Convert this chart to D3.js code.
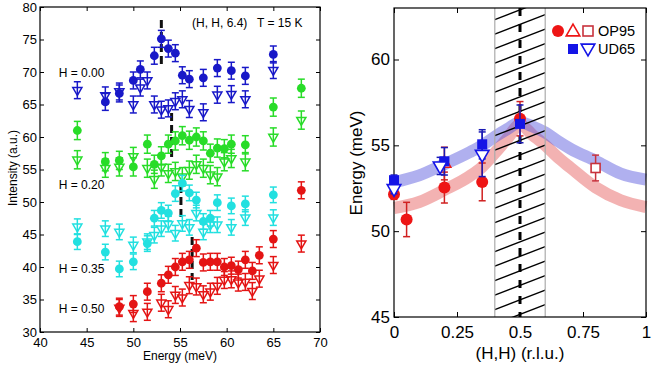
<!DOCTYPE html>
<html><head><meta charset="utf-8">
<script src="https://cdn.jsdelivr.net/npm/d3@7"></script>
<style>body{margin:0;background:#fff} svg{display:block;font-family:"Liberation Sans",Arial,sans-serif}</style>
</head><body>
<svg id="c" width="656" height="369"></svg>
<script>
// ---------------- LEFT PANEL DATA ----------------
const energyTicks = [40,45,50,55,60,65,70];
const intensityTicks = [30,35,40,45,50,55,60,65,70,75,80];
const hLabels = ["H = 0.00","H = 0.20","H = 0.35","H = 0.50"];
const headerText = ["(H, H, 6.4)","T = 15 K"];

const blueCircE = [47,48.5,50,50.75,52.25,53,53.75,54.5,55.25,56,57.5,59,60.5,62,65];
const blueCircI = [65.4,66.7,68.7,70.4,72.5,75.1,73.6,72.9,69.5,68.9,69.1,70.6,70.2,69.4,72.7];
const blueTriE  = [44,47,48.5,50,50.75,51.5,52.25,53,53.75,54.5,55.25,56,57.5,59,60.5,62,65];
const blueTriI  = [67.2,66.4,67.0,65.0,67.6,68.7,65.0,64.2,64.4,65.5,65.8,64.3,63.8,66.5,66.6,65.8,70.3];

const greenCircE = [44,47,48.5,50,51.5,52.25,53,53.75,54.5,55.25,56,56.75,57.5,58.25,59,59.75,60.5,62,65,68];
const greenCircI = [61.0,56.2,56.4,55.4,58.9,55.8,57.1,58.9,59.4,60.2,59.5,60.0,59.4,57.5,58.3,58.2,58.9,58.8,64.6,67.5];
const greenTriE  = [44,47,48.5,50,51.5,52.25,53,53.75,54.5,55.25,56,56.75,57.5,58.25,59,59.75,60.5,62,65,68];
const greenTriI  = [56.5,55.2,55.4,57.0,55.2,53.5,55.4,54.4,54.7,53.9,54.9,55.8,55.2,54.2,53.9,56.2,56.7,56.2,60.0,62.6];

const cyanCircE = [44,47,48.5,50,51.5,52.25,53,53.75,54.5,55.25,56,56.75,57.5,58.25,59,60.5,62,65];
const cyanCircI = [43.9,42.3,39.7,40.8,43.6,47.5,48.7,48.3,51.3,52.9,51.4,50.3,47.0,47.5,49.9,49.4,49.7,51.1];
const cyanTriE  = [44,47,48.5,50,51.5,52.25,53,53.75,54.5,55.25,56,56.75,57.5,58.25,59,60.5,62,65];
const cyanTriI  = [46.2,45.9,45.4,43.4,43.9,44.9,45.9,46.6,45.2,46.7,46.1,48.3,45.4,46.5,46.5,46.1,47.6,47.6];

const redCircE = [48.5,50,51.5,53,53.75,54.5,55.25,56,56.75,57.5,58.25,59,59.75,60.5,61.25,62,62.75,63.5,65,68];
const redCircI = [33.9,34.3,36.2,37.5,38.8,40.0,40.8,41.1,42.9,40.7,40.8,40.8,40.0,40.2,39.6,41.1,39.4,41.8,44.3,51.8];
const redTriE  = [48.5,50,51.5,53,53.75,54.5,55.25,56,56.75,57.5,58.25,59,59.75,60.5,61.25,62,62.75,63.5,65,68];
const redTriI  = [33.7,32.9,33.1,34.5,33.5,35.7,35.3,37.2,37.0,35.8,36.2,37.1,38.0,38.1,37.6,37.7,36.3,38.2,40.3,43.6];

const seriesErr = [1.3, 1.4, 1.2, 1.3]; // blue, green, cyan, red
const peakE    = [53.0, 54.1, 55.1, 56.3];
const peakTopI = [78.0, 63.7, 52.6, 44.6];
const peakBotI = [70.6, 56.5, 47.7, 38.0];

// ---------------- RIGHT PANEL DATA ----------------
const hTicks = [0,0.25,0.5,0.75,1];
const hTickLabels = ["0","0.25","0.5","0.75","1"];
const eTicks = [45,50,55,60];

const opCircH = [0,0.05,0.2,0.35,0.5];
const opCircE = [52.15,50.68,52.54,52.87,56.55];
const opCircErr = [0.3,1.0,0.9,1.1,1.0];
const opTriH = [0.2];
const opTriE = [53.94];
const opTriErr = [0.95];
const opSqH = [0.8];
const opSqE = [53.68];
const opSqErr = [0.75];

const udSqH = [0,0.2,0.35,0.5];
const udSqE = [52.97,54.07,55.06,56.25];
const udSqErr = [0.3,0.8,0.85,1.1];
const udTriH = [0,0.183,0.35];
const udTriE = [52.48,53.8,54.48];
const udTriErr = [0.3,0.5,1.3];

const blueBandH = [0,0.1,0.2,0.3,0.35,0.4,0.45,0.5,0.55,0.6,0.65,0.7,0.8,0.9,1.0];
const blueBandE = [52.85,53.25,53.9,54.6,55.0,55.5,55.95,56.35,56.1,55.75,55.25,54.8,54.1,53.35,53.0];
const redBandH  = [0,0.1,0.2,0.3,0.35,0.4,0.45,0.5,0.55,0.6,0.65,0.7,0.8,0.9,1.0];
const redBandE  = [51.35,51.7,52.4,53.2,53.75,54.55,55.4,56.2,55.6,55.0,54.3,53.7,52.55,51.8,51.4];

const legendNames = ["OP95","UD65"];

// ---------------- DRAW ----------------
const svg = d3.select("#c");
const C = {blue:"#1818c8", green:"#28dc28", cyan:"#22e0e0", red:"#e41414"};

function errBars(g, xs, ys, errs, sx, sy, color, cap, w) {
  xs.forEach((x,i)=>{
    const e = Array.isArray(errs)? errs[i] : errs;
    const px = sx(x), y1 = sy(ys[i]-e), y2 = sy(ys[i]+e);
    g.append("line").attr("x1",px).attr("x2",px).attr("y1",y1).attr("y2",y2).attr("stroke",color).attr("stroke-width",w);
    [y1,y2].forEach(yy=>g.append("line").attr("x1",px-cap).attr("x2",px+cap).attr("y1",yy).attr("y2",yy).attr("stroke",color).attr("stroke-width",w));
  });
}
function tri(g, xs, ys, sx, sy, color, size, down, fill, sw) {
  const sym = d3.symbol().type(d3.symbolTriangle).size(size);
  xs.forEach((x,i)=>{
    g.append("path").attr("d",sym())
      .attr("transform",`translate(${sx(x)},${sy(ys[i])})${down?" rotate(180)":""}`)
      .attr("fill",fill).attr("stroke",color).attr("stroke-width",sw);
  });
}
function circ(g, xs, ys, sx, sy, color, r) {
  xs.forEach((x,i)=>g.append("circle").attr("cx",sx(x)).attr("cy",sy(ys[i])).attr("r",r).attr("fill",color));
}
function sq(g, xs, ys, sx, sy, color, s, fill, sw) {
  xs.forEach((x,i)=>g.append("rect").attr("x",sx(x)-s/2).attr("y",sy(ys[i])-s/2).attr("width",s).attr("height",s)
    .attr("fill",fill).attr("stroke",color).attr("stroke-width",sw));
}

// ----- left panel -----
const xL = d3.scaleLinear().domain([40,70]).range([40,320]);
const yL = d3.scaleLinear().domain([30,80]).range([332,7]);
const gL = svg.append("g");

gL.append("rect").attr("x",40).attr("y",7).attr("width",280).attr("height",325).attr("fill","none").attr("stroke","#000").attr("stroke-width",1.2);
const axB = gL.append("g").attr("transform","translate(0,332)").call(d3.axisBottom(xL).tickValues(energyTicks).tickSizeInner(-4).tickSizeOuter(0).tickPadding(6));
const axLft = gL.append("g").attr("transform","translate(40,0)").call(d3.axisLeft(yL).tickValues(intensityTicks).tickSizeInner(-4).tickSizeOuter(0).tickPadding(3));
const axT = gL.append("g").attr("transform","translate(0,7)").call(d3.axisTop(xL).tickValues(energyTicks).tickSizeInner(-4).tickSizeOuter(0).tickFormat(""));
const axR = gL.append("g").attr("transform","translate(320,0)").call(d3.axisRight(yL).tickValues(intensityTicks).tickSizeInner(-4).tickSizeOuter(0).tickFormat(""));
[axB,axLft,axT,axR].forEach(a=>{a.select(".domain").remove(); a.selectAll("text").attr("font-size",13).attr("font-family","Liberation Sans, Arial"); a.selectAll("line").attr("stroke-width",1);});

peakE.forEach((e,i)=>gL.append("line").attr("x1",xL(e)).attr("x2",xL(e)).attr("y1",yL(peakTopI[i])).attr("y2",yL(peakBotI[i]))
  .attr("stroke","#111").attr("stroke-width",3).attr("stroke-dasharray","8,4"));

const leftSeries = [
  [blueCircE,blueCircI,blueTriE,blueTriI,C.blue],
  [greenCircE,greenCircI,greenTriE,greenTriI,C.green],
  [cyanCircE,cyanCircI,cyanTriE,cyanTriI,C.cyan],
  [redCircE,redCircI,redTriE,redTriI,C.red]
];
leftSeries.forEach((s,k)=>{
  const [ce,ci,te,ti,col] = s;
  errBars(gL, ce, ci, seriesErr[k], xL, yL, col, 3.5, 1.5);
  errBars(gL, te, ti, seriesErr[k], xL, yL, col, 3.5, 1.5);
  circ(gL, ce, ci, xL, yL, col, 4.4);
  tri(gL, te, ti, xL, yL, col, 36, true, "none", 1.5);
});

const hLabelPos = [[42,69.2],[42,52.0],[42,39.1],[42,33.0]];
hLabels.forEach((t,i)=>gL.append("text").attr("x",xL(hLabelPos[i][0])).attr("y",yL(hLabelPos[i][1])).text(t).attr("font-size",12));
gL.append("text").attr("x",192).attr("y",27).attr("font-size",12).text(headerText[0]);
gL.append("text").attr("x",257).attr("y",27).attr("font-size",12).text(headerText[1]);
gL.append("text").attr("x",180).attr("y",360).attr("text-anchor","middle").attr("font-size",12).text("Energy (meV)");
gL.append("text").attr("transform","translate(17,168) rotate(-90)").attr("text-anchor","middle").attr("font-size",12).text("Intensity (a.u.)");

// ----- right panel -----
const xR = d3.scaleLinear().domain([0,1]).range([394,646]);
const yR = d3.scaleLinear().domain([45,63]).range([317,8]);
const gR = svg.append("g");

const bandLine = d3.line().curve(d3.curveMonotoneX);
gR.append("path").attr("d",bandLine(redBandH.map((h,i)=>[xR(h),yR(redBandE[i])])))
  .attr("fill","none").attr("stroke","rgb(228,85,85)").attr("stroke-opacity",0.45).attr("stroke-width",12);
gR.append("path").attr("d",bandLine(blueBandH.map((h,i)=>[xR(h),yR(blueBandE[i])])))
  .attr("fill","none").attr("stroke","rgb(80,80,220)").attr("stroke-opacity",0.45).attr("stroke-width",12);

const hx0 = xR(0.4), hx1 = xR(0.6), yTop = yR(63), yBot = yR(45);
svg.append("defs").append("clipPath").attr("id","hclip").append("rect").attr("x",hx0).attr("y",yTop).attr("width",hx1-hx0).attr("height",yBot-yTop);
const hg = gR.append("g").attr("clip-path","url(#hclip)");
for (let y0 = yTop - 40 + 8.2; y0 < yBot + 40; y0 += 14.5) {
  hg.append("line").attr("x1",hx0).attr("y1",y0).attr("x2",hx1).attr("y2",y0-0.39*(hx1-hx0)).attr("stroke","#000").attr("stroke-width",1.4);
}
[hx0,hx1].forEach(x=>gR.append("line").attr("x1",x).attr("x2",x).attr("y1",yTop).attr("y2",yBot).attr("stroke","#aaa").attr("stroke-width",1.2));
gR.append("line").attr("x1",xR(0.5)).attr("x2",xR(0.5)).attr("y1",yTop).attr("y2",yBot).attr("stroke","#000").attr("stroke-width",3).attr("stroke-dasharray","8,8");

gR.append("rect").attr("x",394).attr("y",yTop).attr("width",252).attr("height",yBot-yTop).attr("fill","none").attr("stroke","#000").attr("stroke-width",1.2);
const rB = gR.append("g").attr("transform",`translate(0,${yBot})`).call(d3.axisBottom(xR).tickValues(hTicks).tickFormat((d,i)=>hTickLabels[i]).tickSizeInner(-5).tickSizeOuter(0).tickPadding(9));
const rL = gR.append("g").attr("transform","translate(394,0)").call(d3.axisLeft(yR).tickValues(eTicks).tickSizeInner(-5).tickSizeOuter(0).tickPadding(4));
const rT = gR.append("g").attr("transform",`translate(0,${yTop})`).call(d3.axisTop(xR).tickValues(hTicks).tickSizeInner(-5).tickSizeOuter(0).tickFormat(""));
const rR = gR.append("g").attr("transform","translate(646,0)").call(d3.axisRight(yR).tickValues(eTicks).tickSizeInner(-5).tickSizeOuter(0).tickFormat(""));
[rB,rL,rT,rR].forEach(a=>{a.select(".domain").remove(); a.selectAll("text").attr("font-size",17).attr("font-family","Liberation Sans, Arial");});

const RED = "#ee1515", BLUE = "#1414e6", DRED = "#c8323c";
errBars(gR, opCircH, opCircE, opCircErr, xR, yR, "#d02020", 3.5, 1.5);
errBars(gR, opSqH, opSqE, opSqErr, xR, yR, DRED, 3.5, 1.5);
errBars(gR, opTriH, opTriE, opTriErr, xR, yR, "#d02020", 3.5, 1.5);
circ(gR, opCircH, opCircE, xR, yR, RED, 6);
sq(gR, opSqH, opSqE, xR, yR, DRED, 9, "#fff", 1.6);
tri(gR, opTriH, opTriE, xR, yR, RED, 70, false, "#fff", 1.6);
errBars(gR, udSqH, udSqE, udSqErr, xR, yR, "#1a1ab4", 3.5, 1.5);
errBars(gR, udTriH, udTriE, udTriErr, xR, yR, "#1a1ab4", 3.5, 1.5);
sq(gR, udSqH, udSqE, xR, yR, BLUE, 10, BLUE, 0);
tri(gR, udTriH, udTriE, xR, yR, BLUE, 80, true, "#fff", 1.6);

circ(gR, [0], [0], ()=>558, ()=>31, RED, 6);
tri(gR, [0], [0], ()=>573, ()=>32, RED, 80, false, "#fff", 1.6);
sq(gR, [0], [0], ()=>588, ()=>31, DRED, 10, "#fff", 1.6);
sq(gR, [0], [0], ()=>573, ()=>49, BLUE, 10, BLUE, 0);
tri(gR, [0], [0], ()=>588, ()=>48, BLUE, 80, true, "#fff", 1.6);
gR.append("text").attr("x",598).attr("y",36).attr("font-size",14.5).text(legendNames[0]);
gR.append("text").attr("x",598).attr("y",54).attr("font-size",14.5).text(legendNames[1]);

gR.append("text").attr("x",520).attr("y",359).attr("text-anchor","middle").attr("font-size",17).text("(H,H) (r.l.u.)");
gR.append("text").attr("transform","translate(362,163) rotate(-90)").attr("text-anchor","middle").attr("font-size",17).text("Energy (meV)");
</script>
</body></html>
